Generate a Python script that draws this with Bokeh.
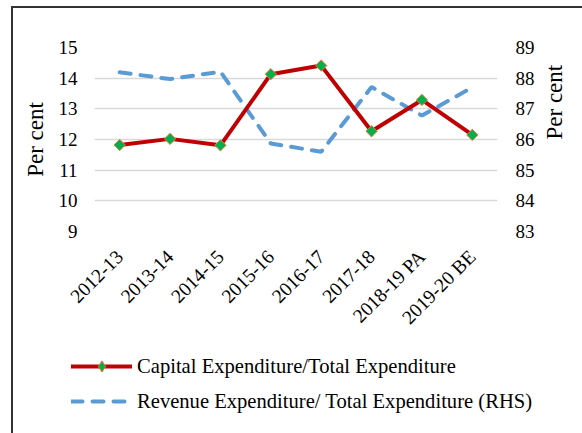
import math
from bokeh.plotting import figure
from bokeh.layouts import column, row
from bokeh.models import (FactorRange, Range1d, LinearAxis, FixedTicker, Legend, LegendItem)
from bokeh.embed import file_html
from bokeh.resources import INLINE

years = ["2012-13", "2013-14", "2014-15", "2015-16", "2016-17", "2017-18", "2018-19 PA", "2019-20 BE"]
capital = [11.82, 12.02, 11.81, 14.13, 14.41, 12.27, 13.29, 12.15]
revenue = [88.19, 87.97, 88.21, 85.87, 85.60, 87.71, 86.78, 87.70]
left_ticks = [9, 10, 11, 12, 13, 14, 15]
right_ticks = [83, 84, 85, 86, 87, 88, 89]
series_names = ["Capital Expenditure/Total Expenditure",
                "Revenue Expenditure/ Total Expenditure (RHS)"]

FONT = "Liberation Serif"
RED, BLUE, GREEN, ORANGE = "#C00000", "#5B9BD5", "#00B050", "#ED7D31"
DASH = "11 10"

p = figure(x_range=FactorRange(*years, range_padding=0), y_range=Range1d(9, 15),
           width=569, height=330, output_backend="svg", toolbar_location=None,
           min_border_left=81, min_border_right=80, min_border_top=39, min_border_bottom=105)
p.extra_y_ranges = {"rhs": Range1d(83, 89)}
p.outline_line_color = None
p.background_fill_color = None
p.border_fill_color = "white"

p.xgrid.grid_line_color = None
p.ygrid.grid_line_color = "#d9d9d9"
p.ygrid.grid_line_width = 1.5
p.yaxis.ticker = FixedTicker(ticks=left_ticks)

raxis = LinearAxis(y_range_name="rhs", ticker=FixedTicker(ticks=right_ticks))
p.add_layout(raxis, "right")

for ax in [p.xaxis[0], p.yaxis[0], raxis]:
    ax.axis_line_color = None
    ax.major_tick_line_color = None
    ax.minor_tick_line_color = None
    ax.major_tick_out = 0
    ax.major_tick_in = 0
    ax.major_label_text_font = FONT
    ax.major_label_text_font_size = "19px"
    ax.major_label_text_color = "black"

p.yaxis.major_label_standoff = 17
raxis.major_label_standoff = 18
p.xaxis.major_label_standoff = 22
p.xaxis.major_label_orientation = math.pi / 4
p.xaxis.major_label_text_font_size = "19.5px"

for ax in [p.yaxis[0], raxis]:
    ax.axis_label = "Per cent"
    ax.axis_label_text_font = FONT
    ax.axis_label_text_font_size = "23px"
    ax.axis_label_text_font_style = "normal"
    ax.axis_label_text_color = "black"
p.yaxis.axis_label_standoff = 8
raxis.axis_label_standoff = 17
try:
    raxis.axis_label_orientation = math.pi / 2
except Exception:
    pass

rev = p.line(years, revenue, y_range_name="rhs", line_color=BLUE, line_width=4,
             line_dash=DASH, line_cap="round")
cap_line = p.line(years, capital, line_color=RED, line_width=4, line_cap="round")
cap_pts = p.scatter(years, capital, marker="square", angle=math.pi / 4, size=8,
                    fill_color=GREEN, line_color=ORANGE, line_width=1)

# legend strip under the chart (series drawn out of view; only the legend shows)
q = figure(width=569, height=95, output_backend="svg", toolbar_location=None,
           x_range=FactorRange(*years, range_padding=0), y_range=Range1d(0, 1),
           min_border_left=0, min_border_right=0, min_border_top=0, min_border_bottom=0)
q.axis.visible = False
q.grid.visible = False
q.outline_line_color = None
q.background_fill_color = None
q.border_fill_color = "white"
l1 = q.line(years, capital, line_color=RED, line_width=4, line_cap="round")
l1m = q.scatter(years, capital, marker="diamond", size=16,
                fill_color=GREEN, line_color=ORANGE, line_width=1)
l2 = q.line(years, revenue, line_color=BLUE, line_width=4, line_dash=DASH, line_cap="round")

legend = Legend(items=[
    LegendItem(label=series_names[0], renderers=[l1, l1m]),
    LegendItem(label=series_names[1], renderers=[l2]),
], location=(58, 18), orientation="vertical")
legend.background_fill_alpha = 0
legend.border_line_color = None
legend.padding = 0
legend.margin = 0
legend.glyph_width = 61
legend.glyph_height = 28
legend.label_height = 20
legend.spacing = 7
legend.label_standoff = 5
legend.label_text_font = FONT
legend.label_text_font_size = "20.6px"
legend.label_text_color = "black"
q.add_layout(legend, "center")

layout = column(p, row(q), spacing=0)
layout.styles = {"margin-left": "11px", "margin-top": "6px",
                 "border-left": "2px solid #333333", "border-top": "2px solid #333333"}

open("out.html", "w").write(file_html(layout, INLINE))
